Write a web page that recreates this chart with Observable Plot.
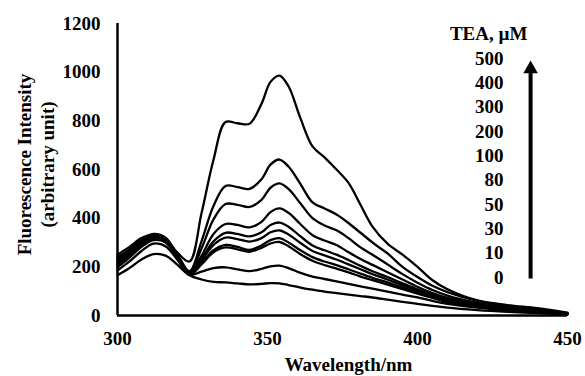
<!DOCTYPE html>
<html><head><meta charset="utf-8">
<script src="https://cdn.jsdelivr.net/npm/d3@7"></script>
<script src="https://cdn.jsdelivr.net/npm/@observablehq/plot@0.6"></script>
<style>
body{margin:0;background:#fff}
#chart svg, #chart svg text{font-family:"Liberation Serif","Times New Roman",serif !important;font-weight:bold;}
</style>
</head><body><div id="chart"></div>
<script>
// Wavelength (nm)
const wavelength = [300,304,308,312,316,320,324,328,332,336,340,344,348,351,354,357,361,365,369,373,377,381,385,390,395,400,405,410,420,430,440,450];
// TEA concentrations (µM)
const concentrations = [0,10,30,50,80,100,200,300,400,500];
// Fluorescence intensity for each concentration
const tea0   = [165,195,230,252,246,208,165,148,138,136,132,128,130,133,132,125,115,106,98,92,86,80,74,65,56,48,40,32,22,15,10,4];
const tea10  = [185,222,265,295,285,228,168,180,195,198,190,182,192,202,205,195,175,160,150,140,130,120,110,98,86,74,60,48,32,20,12,5];
const tea30  = [198,238,282,310,300,236,167,210,260,280,272,262,278,296,302,285,252,225,207,193,177,160,145,127,108,90,72,55,35,23,13,5];
const tea50  = [205,244,288,316,306,239,168,215,268,290,282,270,288,310,318,300,268,240,222,207,190,172,155,136,115,95,75,58,37,24,14,5];
const tea80  = [212,250,292,320,310,241,170,225,290,320,314,304,318,342,350,333,298,265,247,230,210,190,170,148,124,102,80,62,40,26,15,6];
const tea100 = [218,255,295,322,312,243,172,232,305,340,335,325,342,372,382,365,325,288,268,250,228,204,182,158,132,108,85,66,42,27,16,6];
const tea200 = [225,260,300,326,315,245,175,245,335,376,372,362,385,425,440,422,375,330,308,290,260,232,208,178,148,118,92,72,46,30,18,7];
const tea300 = [232,266,305,330,318,248,178,275,395,458,455,446,475,525,543,520,460,400,370,350,318,280,250,210,170,135,105,82,52,33,20,8];
const tea400 = [240,272,312,335,320,250,182,305,450,532,528,520,560,620,641,612,540,465,440,415,380,340,300,255,200,158,122,96,60,40,25,10];
const tea500 = [250,282,318,332,312,258,222,420,640,795,790,788,870,960,986,942,810,695,650,600,545,455,365,295,250,200,145,108,62,43,30,12];
const series = [tea0,tea10,tea30,tea50,tea80,tea100,tea200,tea300,tea400,tea500];

// Axis ticks and texts
const xTicks = [300,350,400,450];
const yTicks = [0,200,400,600,800,1000,1200];
const xTitle = "Wavelength/nm";
const yTitle = "Fluorescence Intensity\n(arbitrary unit)";
const legendTitle = "TEA, µM";
const legendLabels = ["500","400","300","200","100","80","50","30","10","0"];

// Legend placement (data units)
const legendTitlePos = {x: 423.7, y: 1159};
const legendLabelX = 428.7;
const legendLabelTop = 1056;
const legendLabelStep = 100;
const arrowPos = {x: 437.7, from: 152, to: 1013};

const data = concentrations.flatMap((c, i) => wavelength.map((w, j) => ({c, w, v: series[i][j]})));

const serif = "'Liberation Serif', 'Times New Roman', serif";
const chart = Plot.plot({
  width: 585, height: 376,
  marginLeft: 117, marginRight: 18, marginTop: 23, marginBottom: 61,
  style: {fontFamily: serif, fontSize: "19px", fontWeight: "bold", color: "#000", background: "#fff", overflow: "visible"},
  x: {domain: [300, 450], label: null},
  y: {domain: [0, 1200], label: null},
  marks: [
    Plot.axisX({ticks: xTicks, tickSize: 0, tickPadding: 16, tickFormat: d3.format("d"), label: null, fontFamily: serif, fontWeight: "bold", fontSize: 19}),
    Plot.axisY({ticks: yTicks, tickSize: 0, tickPadding: 17, tickFormat: d3.format("d"), label: null, fontFamily: serif, fontWeight: "bold", fontSize: 19}),
    Plot.line(data, {x: "w", y: "v", z: "c", stroke: "#000", strokeWidth: 2.3, curve: "catmull-rom"}),
    Plot.ruleX([300], {stroke: "#000", strokeWidth: 2.5}),
    Plot.ruleY([0], {stroke: "#000", strokeWidth: 2.5}),
    Plot.text([yTitle], {frameAnchor: "left", textAnchor: "middle", lineAnchor: "middle", text: d => d, rotate: -90, dx: -82, dy: -5, fontSize: 19, fontWeight: "bold", lineHeight: 1.2}),
    Plot.text([xTitle], {frameAnchor: "bottom", textAnchor: "middle", lineAnchor: "middle", text: d => d, dx: 6, dy: 49, fontSize: 19, fontWeight: "bold"}),
    Plot.text([legendTitle], {x: legendTitlePos.x, y: legendTitlePos.y, text: d => d, fontSize: 19, fontWeight: "bold"}),
    Plot.text(legendLabels, {x: legendLabelX, y: (d, i) => legendLabelTop - legendLabelStep * i, text: d => d, textAnchor: "end", fontSize: 19, fontWeight: "bold"}),
    Plot.link([arrowPos], {x1: "x", x2: "x", y1: "from", y2: "to", stroke: "#000", strokeWidth: 4}),
    Plot.dot([arrowPos], {x: "x", y: "to", symbol: "triangle", r: 5.4, fill: "#000", stroke: "none"})
  ]
});
document.getElementById("chart").appendChild(chart);
</script>
</body></html>
